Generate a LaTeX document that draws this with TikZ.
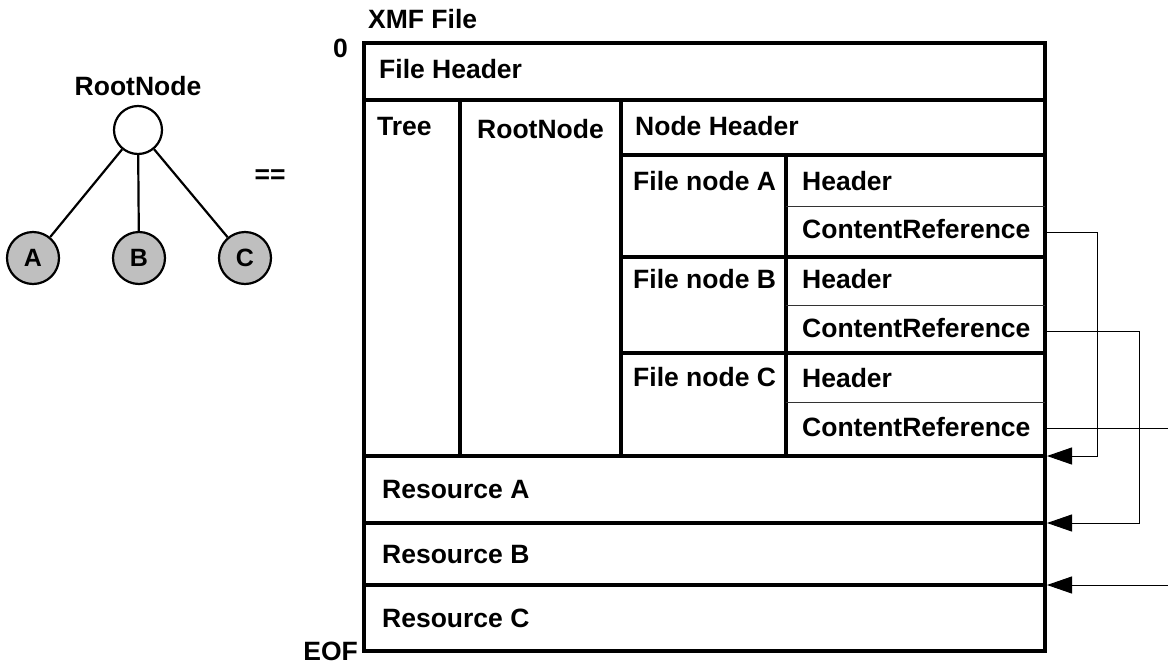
\documentclass[tikz,border=0pt]{standalone}
\usepackage{fontspec}
\setmainfont{Liberation Sans}
\usetikzlibrary{arrows.meta}
\begin{document}
\begin{tikzpicture}[x=1pt,y=-1pt,
  txt/.style={font=\bfseries\fontsize{26.5}{31}\selectfont, inner sep=0pt},
  lbl/.style={txt, anchor=base west},
  heavy/.style={line width=4.5pt},
  light/.style={line width=1pt, black!80},
  tnode/.style={circle, draw, line width=2.2pt, inner sep=0pt, minimum size=48pt},
  leaf/.style={tnode, fill=black!25, minimum size=52pt, font=\bfseries\fontsize{25}{30}\selectfont},
  edge/.style={line width=2.2pt},
  ref/.style={line width=1pt, -{Triangle[length=25pt, width=17pt]}}]
\useasboundingbox (0,0) rectangle (1168,664);

% ---- tree on the left ----
\node[txt, anchor=base] (rootlbl) at (138,95) {RootNode};
\node[tnode] (root) at (138,130) {};
\node[leaf] (A) at (33,258) {A};
\node[leaf] (B) at (139,258) {B};
\node[leaf] (C) at (245,258) {C};
\draw[edge] (root) -- (A);
\draw[edge] (root) -- (B);
\draw[edge] (root) -- (C);
\node[txt] (eq) at (270,177) {==};

% ---- file layout ----
\node[lbl] (title) at (368,28) {XMF File};
\node[lbl] (zero) at (333,57) {0};
\node[lbl, anchor=base east] (eof) at (358,660) {EOF};

% section borders
\draw[heavy] (364,43) rectangle (1045,651);
\draw[heavy] (364,100) -- (1045,100);
\draw[heavy] (621,155) -- (1045,155);
\draw[heavy] (621,257) -- (1045,257);
\draw[heavy] (621,353) -- (1045,353);
\draw[heavy] (364,456) -- (1045,456);
\draw[heavy] (364,523) -- (1045,523);
\draw[heavy] (364,585) -- (1045,585);
\draw[heavy] (460,100) -- (460,456);
\draw[heavy] (621,100) -- (621,456);
\draw[heavy] (786,155) -- (786,456);
\draw[light] (786,206) -- (1045,206);
\draw[light] (786,305) -- (1045,305);
\draw[light] (786,402) -- (1045,402);

% section names
\node[lbl] (fh) at (379,78) {File Header};
\node[lbl] (tree) at (377,135) {Tree};
\node[lbl] (rn) at (477,138) {RootNode};
\node[lbl] (nh) at (635,135) {Node Header};
\node[lbl] (fnA) at (633,190) {File node A};
\node[lbl] (hA) at (802,190) {Header};
\node[lbl] (crA) at (802,238) {ContentReference};
\node[lbl] (fnB) at (633,288) {File node B};
\node[lbl] (hB) at (802,288) {Header};
\node[lbl] (crB) at (802,337) {ContentReference};
\node[lbl] (fnC) at (633,386) {File node C};
\node[lbl] (hC) at (802,387) {Header};
\node[lbl] (crC) at (802,436) {ContentReference};
\node[lbl] (resA) at (382,498) {Resource A};
\node[lbl] (resB) at (382,563) {Resource B};
\node[lbl] (resC) at (382,627) {Resource C};

% reference ends
\coordinate (outA) at (1047,232);
\coordinate (outB) at (1047,331);
\coordinate (outC) at (1047,428);
\coordinate (inA) at (1047,456);
\coordinate (inB) at (1047,523);
\coordinate (inC) at (1047,585);
\coordinate (edgeC) at (1168,428);
\coordinate (edgeIn) at (1168,585);

% content references pointing to their resources
\draw[ref] (outA) -- (1097,232) -- (1097,456) -- (inA);
\draw[ref] (outB) -- (1139,331) -- (1139,523) -- (inB);
\draw[line width=1pt] (outC) -- (edgeC);
\draw[ref] (edgeIn) -- (inC);
\end{tikzpicture}
\end{document}
